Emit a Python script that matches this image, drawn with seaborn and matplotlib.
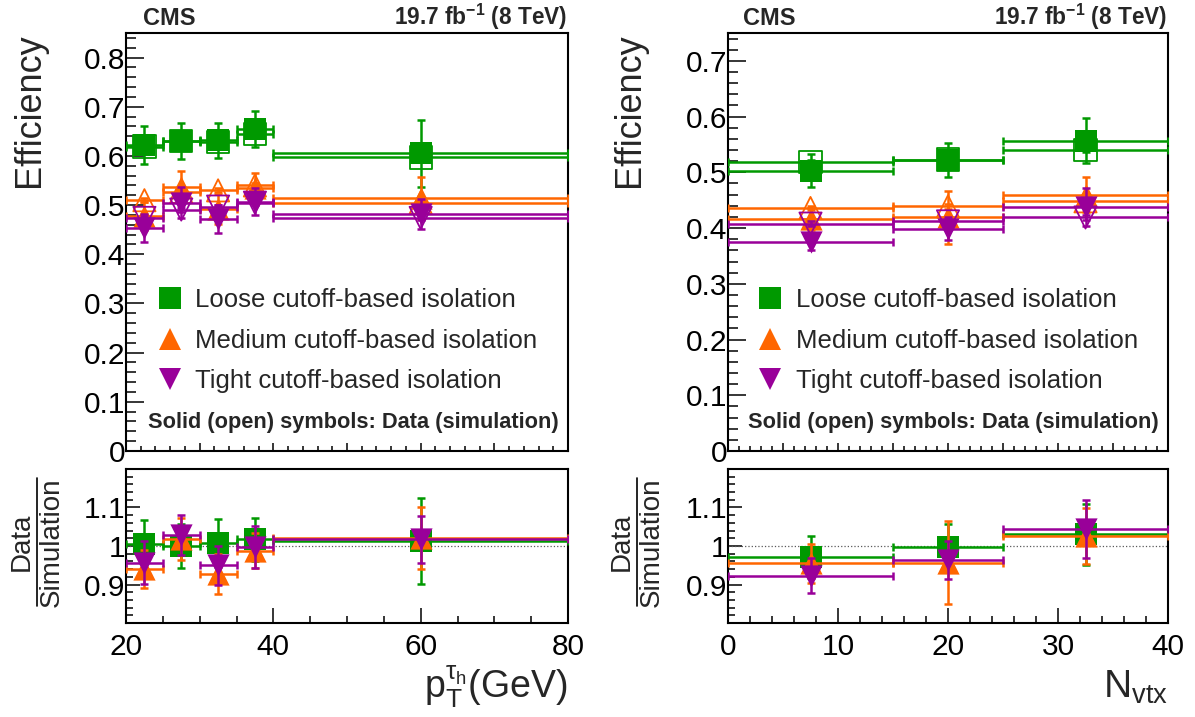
import matplotlib
matplotlib.use("Agg")
import matplotlib.pyplot as plt
from matplotlib.lines import Line2D
from matplotlib.ticker import MultipleLocator, FixedLocator, FormatStrFormatter, NullFormatter
import numpy as np
import seaborn as sns

# ---- bins ----
pt_lo = [20, 25, 30, 35, 40]
pt_hi = [25, 30, 35, 40, 80]
nvtx_lo = [0, 15, 25]
nvtx_hi = [15, 25, 40]

iso_names = ["Loose cutoff-based isolation", "Medium cutoff-based isolation", "Tight cutoff-based isolation"]
iso_colors = ["#009900", "#ff6600", "#990099"]
iso_markers = ["s", "^", "v"]

# ---- efficiency vs pT(tau_h) ----
loose_data_pt = [0.622, 0.630, 0.632, 0.655, 0.605]
loose_data_pt_err = [0.038, 0.037, 0.036, 0.037, 0.069]
loose_sim_pt = [0.619, 0.630, 0.629, 0.645, 0.597]
loose_sim_pt_err = [0.004, 0.004, 0.004, 0.004, 0.005]
medium_data_pt = [0.478, 0.537, 0.492, 0.535, 0.515]
medium_data_pt_err = [0.028, 0.032, 0.030, 0.030, 0.043]
medium_sim_pt = [0.510, 0.527, 0.530, 0.540, 0.505]
medium_sim_pt_err = [0.004, 0.004, 0.004, 0.004, 0.005]
tight_data_pt = [0.453, 0.505, 0.472, 0.507, 0.482]
tight_data_pt_err = [0.028, 0.031, 0.028, 0.028, 0.030]
tight_sim_pt = [0.474, 0.491, 0.497, 0.505, 0.474]
tight_sim_pt_err = [0.004, 0.004, 0.004, 0.004, 0.005]

loose_ratio_pt = [1.005, 1.000, 1.007, 1.018, 1.013]
loose_ratio_pt_err = [0.062, 0.058, 0.062, 0.056, 0.112]
medium_ratio_pt = [0.940, 1.018, 0.928, 0.988, 1.021]
medium_ratio_pt_err = [0.050, 0.055, 0.052, 0.045, 0.080]
tight_ratio_pt = [0.957, 1.028, 0.950, 0.998, 1.017]
tight_ratio_pt_err = [0.055, 0.052, 0.050, 0.055, 0.060]

# ---- efficiency vs N_vtx ----
loose_data_nvtx = [0.503, 0.522, 0.557]
loose_data_nvtx_err = [0.029, 0.031, 0.041]
loose_sim_nvtx = [0.518, 0.523, 0.540]
loose_sim_nvtx_err = [0.004, 0.004, 0.004]
medium_data_nvtx = [0.416, 0.419, 0.460]
medium_data_nvtx_err = [0.020, 0.047, 0.032]
medium_sim_nvtx = [0.436, 0.439, 0.448]
medium_sim_nvtx_err = [0.004, 0.004, 0.004]
tight_data_nvtx = [0.375, 0.399, 0.437]
tight_data_nvtx_err = [0.015, 0.020, 0.034]
tight_sim_nvtx = [0.408, 0.412, 0.419]
tight_sim_nvtx_err = [0.004, 0.004, 0.004]

loose_ratio_nvtx = [0.971, 0.998, 1.030]
loose_ratio_nvtx_err = [0.055, 0.060, 0.080]
medium_ratio_nvtx = [0.955, 0.957, 1.026]
medium_ratio_nvtx_err = [0.050, 0.108, 0.073]
tight_ratio_nvtx = [0.923, 0.964, 1.044]
tight_ratio_nvtx_err = [0.046, 0.049, 0.075]

sns.set_theme(style="ticks")
plt.rcParams["font.family"] = ["Liberation Sans", "DejaVu Sans"]
plt.rcParams["mathtext.fontset"] = "custom"
plt.rcParams["mathtext.rm"] = "Liberation Sans"
plt.rcParams["mathtext.it"] = "Liberation Sans:italic"
plt.rcParams["mathtext.bf"] = "Liberation Sans:bold"

fig = plt.figure(figsize=(11.95, 7.17), dpi=100)
W, H = 1195.0, 717.0


def box(x0, x1, ytop, ybot):
    return [x0 / W, 1 - ybot / H, (x1 - x0) / W, (ybot - ytop) / H]


ax_tl = fig.add_axes(box(126, 568, 33, 451))
ax_bl = fig.add_axes(box(126, 568, 469, 623))
ax_tr = fig.add_axes(box(728, 1168, 33, 451))
ax_br = fig.add_axes(box(728, 1168, 469, 623))

LW = 1.8
CAP = 3.0
MS = 256


def draw_series(ax, lo, hi, yvals, yerr, color, marker, z, open_marker=False):
    lo = np.asarray(lo, float)
    hi = np.asarray(hi, float)
    xc = (lo + hi) / 2
    ax.errorbar(xc, yvals, xerr=(hi - lo) / 2, yerr=yerr, fmt="none",
                ecolor=color, elinewidth=LW, capsize=CAP, capthick=LW, zorder=z)
    sns.scatterplot(x=xc, y=yvals, marker=marker, s=MS, color=color,
                    edgecolor=color, linewidth=0, legend=False, ax=ax, zorder=z + 0.5)
    coll = ax.collections[-1]
    if open_marker:
        coll.set_facecolor("none")
        coll.set_edgecolor(color)
        coll.set_linewidth(1.3)


def style(ax, xlim, ylim, ymajor, yminor, xmajor, xminor, ylen, xlen, xlabels):
    ax.set_xlim(*xlim)
    ax.set_ylim(*ylim)
    ax.set_facecolor("white")
    ax.grid(False)
    for s in ax.spines.values():
        s.set_linewidth(1.5)
        s.set_color("black")
    ax.yaxis.set_major_locator(ymajor)
    ax.yaxis.set_minor_locator(MultipleLocator(yminor))
    ax.yaxis.set_major_formatter(FormatStrFormatter("%g"))
    ax.xaxis.set_major_locator(MultipleLocator(xmajor))
    ax.xaxis.set_minor_locator(MultipleLocator(xminor))
    ax.xaxis.set_major_formatter(FormatStrFormatter("%g"))
    ax.tick_params(which="both", direction="in", top=False, right=False,
                   width=1.1, color="black", labelcolor="black")
    ax.tick_params(axis="y", which="major", length=ylen[0], labelsize=21.5, pad=0.5)
    ax.tick_params(axis="y", which="minor", length=ylen[1])
    ax.tick_params(axis="x", which="major", length=xlen[0], labelsize=21.5, pad=7)
    ax.tick_params(axis="x", which="minor", length=xlen[1])
    if not xlabels:
        ax.xaxis.set_major_formatter(NullFormatter())
    ax.set_xlabel("")
    ax.set_ylabel("")


panels = [
    (ax_tl, ax_bl, pt_lo, pt_hi,
     [(loose_data_pt, loose_data_pt_err, loose_sim_pt, loose_sim_pt_err, loose_ratio_pt, loose_ratio_pt_err),
      (medium_data_pt, medium_data_pt_err, medium_sim_pt, medium_sim_pt_err, medium_ratio_pt, medium_ratio_pt_err),
      (tight_data_pt, tight_data_pt_err, tight_sim_pt, tight_sim_pt_err, tight_ratio_pt, tight_ratio_pt_err)]),
    (ax_tr, ax_br, nvtx_lo, nvtx_hi,
     [(loose_data_nvtx, loose_data_nvtx_err, loose_sim_nvtx, loose_sim_nvtx_err, loose_ratio_nvtx, loose_ratio_nvtx_err),
      (medium_data_nvtx, medium_data_nvtx_err, medium_sim_nvtx, medium_sim_nvtx_err, medium_ratio_nvtx, medium_ratio_nvtx_err),
      (tight_data_nvtx, tight_data_nvtx_err, tight_sim_nvtx, tight_sim_nvtx_err, tight_ratio_nvtx, tight_ratio_nvtx_err)]),
]

for ax_top, ax_rat, lo, hi, series in panels:
    ax_rat.axhline(1.0, color="0.35", ls=":", lw=0.9, zorder=1)
    for k, (d, de, s, se, r, re) in enumerate(series):
        col, mk = iso_colors[k], iso_markers[k]
        draw_series(ax_top, lo, hi, s, se, col, mk, 3 + 4 * k, open_marker=True)
        draw_series(ax_top, lo, hi, d, de, col, mk, 5 + 4 * k)
        draw_series(ax_rat, lo, hi, r, re, col, mk, 3 + 2 * k)

# axes styling
style(ax_tl, (20, 80), (0, 0.85), MultipleLocator(0.1), 0.02, 10, 2, (13, 7), (6, 3.5), False)
style(ax_tr, (0, 40), (0, 0.75), MultipleLocator(0.1), 0.02, 5, 1, (13, 7), (6, 3.5), False)
style(ax_bl, (20, 80), (0.8, 1.2), FixedLocator([0.9, 1.0, 1.1]), 0.02, 20, 5, (10, 5), (11, 5), True)
style(ax_br, (0, 40), (0.8, 1.2), FixedLocator([0.9, 1.0, 1.1]), 0.02, 10, 2, (10, 5), (11, 5), True)

# legends, annotations
handles = [Line2D([], [], ls="none", marker=m, color=c, markersize=16, markeredgewidth=0)
           for m, c in zip(iso_markers, iso_colors)]
for ax, lx, sx, cx in [(ax_tl, 0.070, 0.050, 0.038), (ax_tr, 0.066, 0.045, 0.034)]:
    ax.legend(handles, iso_names, loc="center left", bbox_to_anchor=(lx, 0.264),
              frameon=False, fontsize=18.5, handlelength=1.0, handletextpad=0.5,
              labelspacing=0.65, borderpad=0, borderaxespad=0)
    ax.text(sx, 0.055, "Solid (open) symbols: Data (simulation)", transform=ax.transAxes,
            fontsize=15.7, fontweight="bold", ha="left", va="baseline")
    ax.text(cx, 1.019, "CMS", transform=ax.transAxes,
            fontsize=17, fontweight="bold", ha="left", va="baseline")
    ax.text(0.998, 1.019, r"19.7 fb$^{\mathbf{-1}}$ (8 TeV)", transform=ax.transAxes,
            fontsize=16.3, fontweight="bold", ha="right", va="baseline")

# y titles
for xc in (29, 629):
    fig.text(xc / W, 1 - 33 / H, "Efficiency", rotation=90, fontsize=26,
             ha="center", va="top")
    fig.text((xc - 7) / W, 1 - 542 / H, "Data", rotation=90, fontsize=20,
             ha="center", va="center")
    fig.text((xc + 23) / W, 1 - 542 / H, "Simulation", rotation=90, fontsize=20,
             ha="center", va="center")
    fig.add_artist(Line2D([(xc + 8) / W, (xc + 8) / W], [1 - 606 / H, 1 - 478 / H],
                          transform=fig.transFigure, color="black", lw=1.2))

# x titles
fig.text(568 / W, 1 - 698 / H, r"$\mathregular{p_{T}^{\tau_{h}}}$(GeV)", fontsize=27,
         ha="right", va="baseline")
fig.text(1168 / W, 1 - 698 / H, r"N$_{\mathregular{vtx}}$", fontsize=28,
         ha="right", va="baseline")

fig.savefig("out.png", dpi=100, facecolor="white")
